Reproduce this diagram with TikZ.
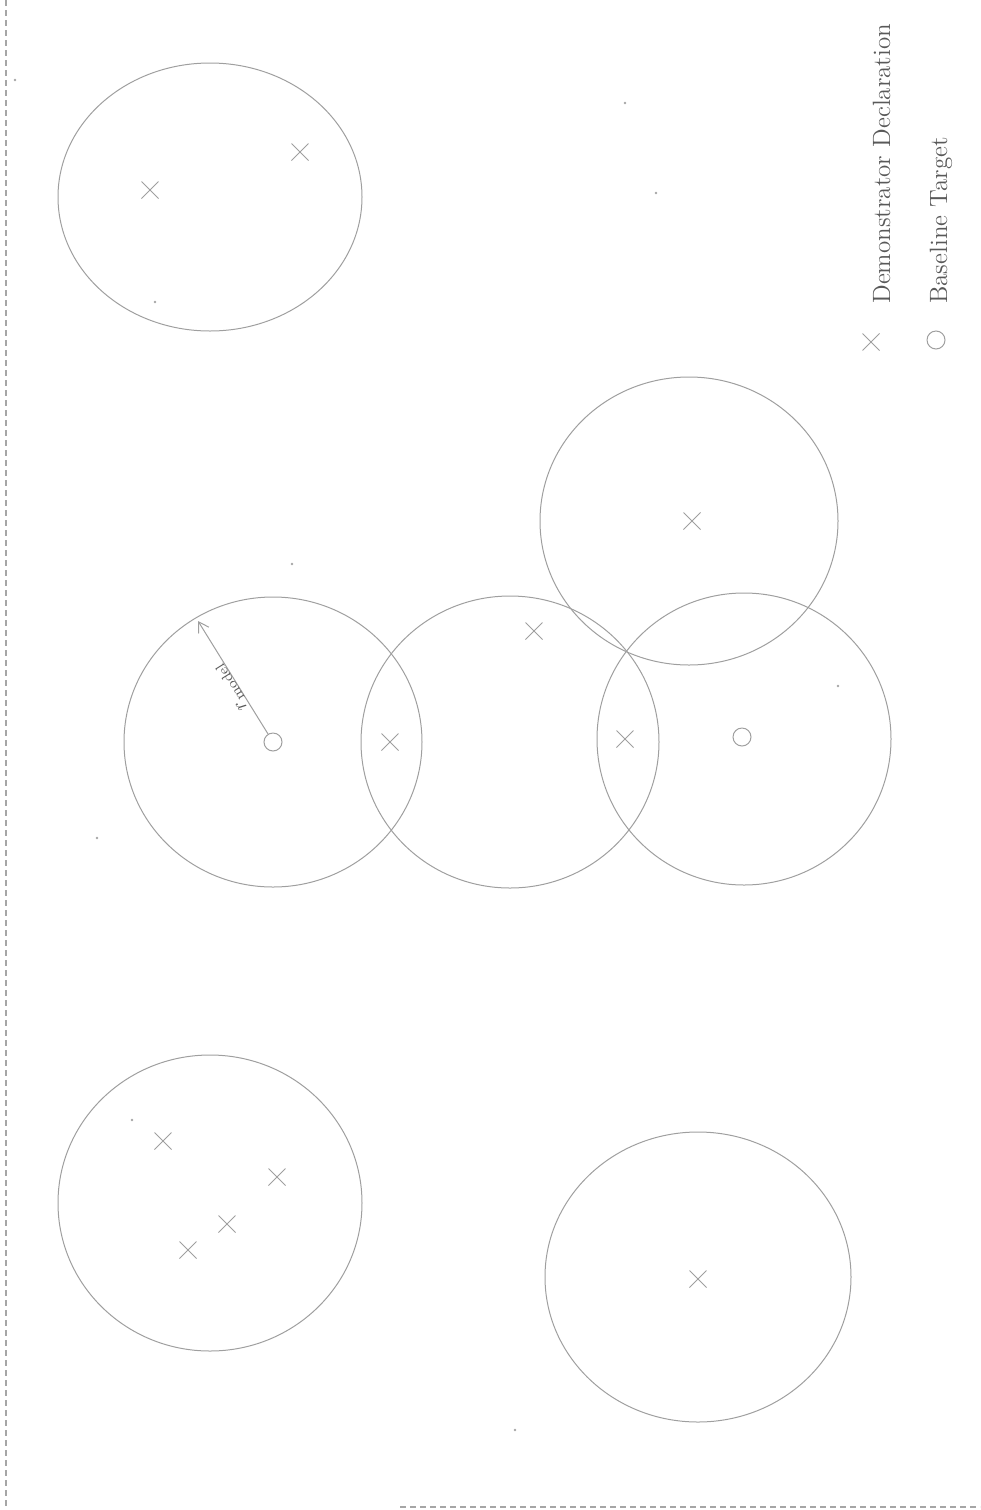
\documentclass[tikz,border=0pt]{standalone}
\usetikzlibrary{shapes.misc,arrows.meta}
\begin{document}
\begin{tikzpicture}[x=0.5pt,y=-0.5pt,
  ring/.style={draw=gray!75, line width=0.5pt},
  frameline/.style={draw=gray!70, line width=0.6pt, densely dashed},
  xmark/.style={cross out, draw=gray!75, line width=0.5pt, minimum size=8pt, inner sep=0pt},
  omark/.style={circle, draw=gray!75, line width=0.5pt, minimum size=9pt, inner sep=0pt},
  speck/.style={circle, fill=gray!70, inner sep=0pt, minimum size=1.3pt},
  legendtext/.style={rotate=90, anchor=base west, text=black!65, font=\fontsize{12.5}{15}\selectfont, inner sep=0pt},
  radlabel/.style={rotate=122, anchor=south, text=black!65, inner sep=0pt, font=\normalsize}]
\useasboundingbox (0,0) rectangle (980,1510);
% frame remnants
\coordinate (ftop) at (6,0);
\coordinate (fbot) at (6,1510);
\coordinate (bl) at (400,1507);
\coordinate (br) at (980,1507);
\draw[frameline] (ftop) -- (fbot);
\draw[frameline] (bl) -- (br);
% circles
\draw[ring] (210,197) ellipse [x radius=76pt, y radius=67pt];
\draw[ring] (273,742) ellipse [x radius=74.5pt, y radius=72.5pt];
\draw[ring] (510,742) ellipse [x radius=74.5pt, y radius=73pt];
\draw[ring] (744,739) ellipse [x radius=73.5pt, y radius=73pt];
\draw[ring] (689,521) ellipse [x radius=74.5pt, y radius=72pt];
\draw[ring] (210,1203) ellipse [x radius=76pt, y radius=74pt];
\draw[ring] (698,1277) ellipse [x radius=76.5pt, y radius=72.5pt];
% demonstrator declarations
\node[xmark] (d1) at (150,190) {};
\node[xmark] (d2) at (300,152) {};
\node[xmark] (d3) at (390,742) {};
\node[xmark] (d4) at (534,631) {};
\node[xmark] (d5) at (625,739) {};
\node[xmark] (d6) at (692,521) {};
\node[xmark] (d7) at (163,1141) {};
\node[xmark] (d8) at (277,1177) {};
\node[xmark] (d9) at (227,1224) {};
\node[xmark] (d10) at (188,1250) {};
\node[xmark] (d11) at (698,1279) {};
% baseline targets
\node[omark] (t1) at (273,742) {};
\node[omark] (t2) at (742,737) {};
% radius arrow
\coordinate (redge) at (198,621);
\draw[gray!75, line width=0.5pt, -{Straight Barb[length=5pt,width=6pt]}] (t1) -- (redge)
  node[radlabel, pos=0.45] {$r_{\mathrm{model}}$};
% specks
\node[speck] (s1) at (625,103) {};
\node[speck] (s2) at (656,193) {};
\node[speck] (s3) at (155,302) {};
\node[speck] (s4) at (292,564) {};
\node[speck] (s5) at (97,838) {};
\node[speck] (s6) at (838,686) {};
\node[speck] (s7) at (132,1120) {};
\node[speck] (s8) at (515,1430) {};
\node[speck] (s9) at (15,80) {};
% legend
\node[xmark] (lx) at (871,342) {};
\node[omark] (lo) at (936,340) {};
\node[legendtext] (lt1) at (890,304) {Demonstrator Declaration};
\node[legendtext] (lt2) at (947,304) {Baseline Target};
\end{tikzpicture}
\end{document}
